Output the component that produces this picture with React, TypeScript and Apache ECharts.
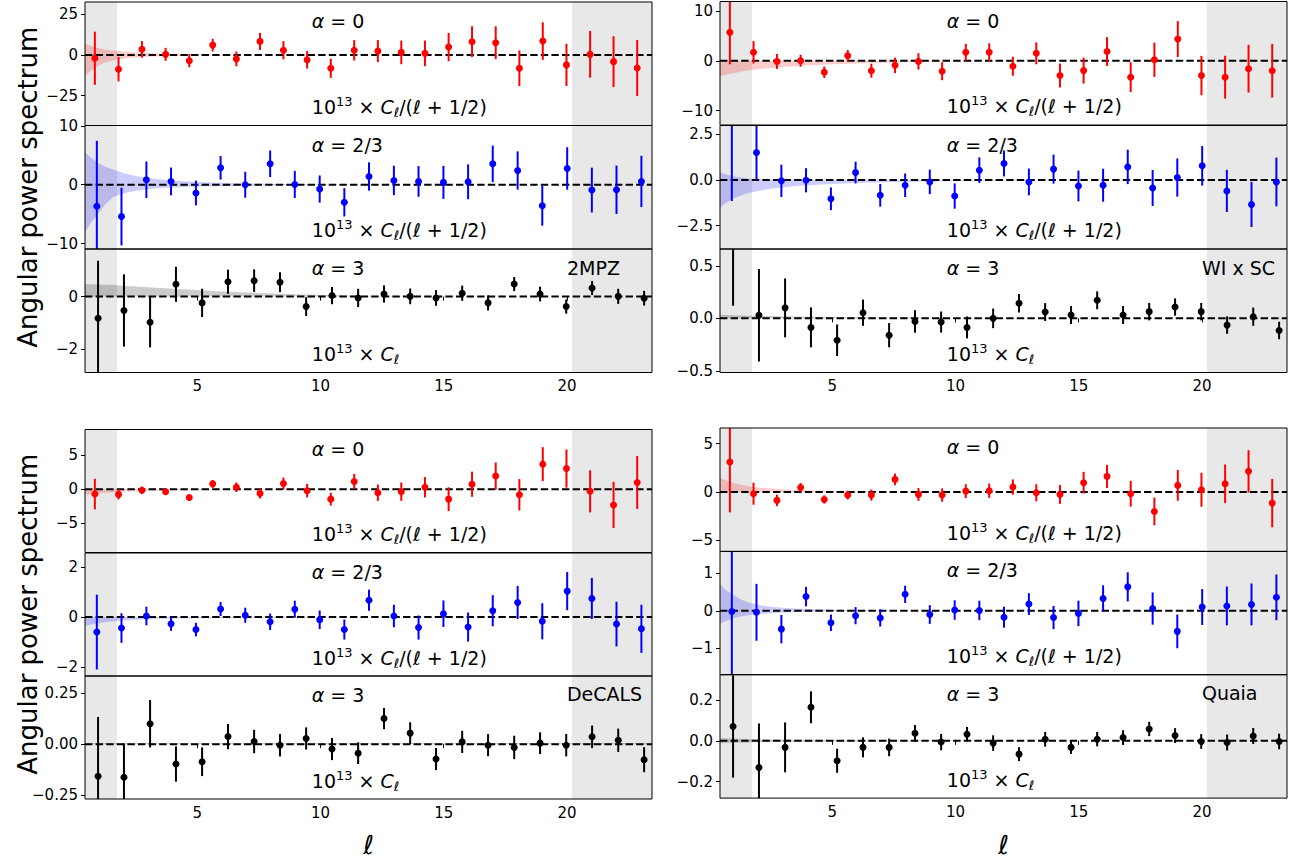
import React, { useEffect, useRef } from "react";
import * as echarts from "echarts";

const FONT = "DejaVu Sans";
const X_MIN = 0.45;
const X_MAX = 23.45;
const MASK_LOW = 1.75;
const MASK_HIGH = 20.2;
const X_TICKS = [5, 10, 15, 20];

const RED = "#ff0000";
const BLUE = "#0000ff";
const BLACK = "#000000";
const RED_BAND = "rgba(255,0,0,0.2)";
const BLUE_BAND = "rgba(0,0,255,0.2)";
const GRAY_BAND = "rgba(0,0,0,0.2)";
const MASK = "#e8e8e8";

// multipole positions of the three sets of bins
const ELL_A0 = [0.85, 1.81, 2.76, 3.72, 4.68, 5.63, 6.59, 7.55, 8.5, 9.46, 10.42, 11.37, 12.33, 13.28, 14.24, 15.2, 16.15, 17.11, 18.07, 19.02, 19.98, 20.94, 21.89, 22.85];
const ELL_A23 = [0.93, 1.93, 2.94, 3.94, 4.95, 5.95, 6.95, 7.96, 8.96, 9.97, 10.97, 11.97, 12.98, 13.98, 14.99, 15.99, 16.99, 18.0, 19.0, 20.01, 21.01, 22.01, 23.02];
const ELL_A3 = [0.98, 2.03, 3.09, 4.14, 5.2, 6.25, 7.31, 8.36, 9.42, 10.47, 11.53, 12.58, 13.64, 14.69, 15.75, 16.8, 17.86, 18.91, 19.97, 21.02, 22.08, 23.13];
const BAND_ELL = [0.45, 0.7, 1.0, 1.3, 1.6, 2.0, 2.5, 3.0, 3.5, 4.0, 5.0, 6.0, 7.5, 9.0, 11.0, 13.0, 16.0, 23.45];

// 2MPZ
const MPZ_A0_VAL = [-2, -8.8, 3.5, 0.4, -3.5, 6.1, -2.4, 8.4, 2.9, -3, -8.2, 2.9, 2.4, 1.6, 1, 4.9, 8.2, 7.6, -8.2, 8.6, -6.1, 0.4, -4.1, -8];
const MPZ_A0_ERR = [16.4, 7.5, 5.1, 4, 4.1, 3.9, 4.6, 5.3, 5.6, 5.4, 5.9, 6.3, 6.8, 7.3, 7.9, 8.7, 9.5, 10.1, 11, 11.6, 13, 14.4, 15.7, 17.3];
const MPZ_A0_LO = [-13, -9.5, -6.5, -4.5, -3.2, -2.2, -1.5, -1.1, -0.8, -0.6, -0.35, -0.2, -0.1, -0.05, -0.02, 0, 0, 0];
const MPZ_A0_HI = [7, 5.5, 4.2, 3.3, 2.7, 2.1, 1.6, 1.2, 0.9, 0.7, 0.4, 0.25, 0.12, 0.06, 0.02, 0, 0, 0];
const MPZ_A23_VAL = [-3.66, -5.4, 0.85, 0.56, -1.4, 2.87, 0, 3.55, 0.05, -0.73, -2.98, 1.4, 0.73, 0.56, 0.4, 0.5, 3.55, 2.42, -3.55, 2.76, -0.9, -0.85, 0.56];
const MPZ_A23_ERR = [11.1, 4.9, 3.1, 2.35, 2.1, 2.0, 2.2, 2.25, 2.3, 2.3, 2.4, 2.4, 2.5, 2.6, 2.8, 2.95, 3.1, 3.25, 3.4, 3.6, 3.8, 4.1, 4.35];
const MPZ_A23_LO = [-8.0, -6.4, -4.8, -3.2, -2.1, -1.5, -1.0, -0.75, -0.55, -0.45, -0.3, -0.2, -0.1, -0.05, -0.02, 0, 0, 0];
const MPZ_A23_HI = [5.5, 4.6, 3.6, 3.0, 2.6, 2.0, 1.5, 1.15, 0.9, 0.7, 0.45, 0.3, 0.15, 0.08, 0.03, 0, 0, 0];
const MPZ_A3_VAL = [-0.83, -0.53, -0.98, 0.47, -0.24, 0.57, 0.61, 0.55, -0.38, 0.04, -0.05, 0.1, 0.01, -0.05, 0.13, -0.24, 0.48, 0.1, -0.38, 0.33, 0.01, -0.06];
const MPZ_A3_ERR = [2.2, 1.38, 0.96, 0.67, 0.54, 0.46, 0.43, 0.38, 0.36, 0.33, 0.35, 0.33, 0.3, 0.3, 0.29, 0.29, 0.27, 0.28, 0.27, 0.27, 0.29, 0.28];
const MPZ_A3_LO = [0, 0, 0, 0, 0, 0, 0, 0, 0, 0, 0, 0, 0, 0, 0, 0, 0, 0];
const MPZ_A3_HI = [0.48, 0.47, 0.46, 0.45, 0.44, 0.42, 0.39, 0.36, 0.33, 0.3, 0.25, 0.2, 0.14, 0.09, 0.045, 0.015, 0, 0];

// WI x SC
const WISC_A0_VAL = [5.7, 1.7, -0.13, 0, -2.3, 1.0, -2.0, -0.92, -0.13, -2.1, 1.7, 1.7, -1.1, 1.5, -2.97, -1.98, 1.85, -3.3, 0.2, 4.36, -2.97, -3.3, -1.6, -2.0];
const WISC_A0_ERR = [6.4, 2.25, 1.5, 1.2, 1.15, 1.15, 1.4, 1.55, 1.65, 1.8, 1.7, 1.8, 1.9, 2.2, 2.4, 2.6, 2.9, 3.0, 3.45, 3.6, 3.95, 4.3, 4.8, 5.4];
const WISC_A0_LO = [-3.1, -2.8, -2.5, -2.2, -1.9, -1.7, -1.45, -1.25, -1.1, -0.95, -0.72, -0.55, -0.35, -0.22, -0.12, -0.06, -0.02, 0];
const WISC_A0_HI = [0, 0, 0, 0, 0, 0, 0, 0, 0, 0, 0, 0, 0, 0, 0, 0, 0, 0];
const WISC_A23_VAL = [3.6, 1.5, -0.05, -0.02, -1.03, 0.4, -0.84, -0.29, -0.11, -0.88, 0.53, 0.9, -0.11, 0.59, -0.33, -0.29, 0.71, -0.44, 0.13, 0.77, -0.6, -1.34, -0.11];
const WISC_A23_ERR = [4.75, 1.5, 0.88, 0.66, 0.62, 0.59, 0.62, 0.64, 0.67, 0.69, 0.7, 0.71, 0.73, 0.79, 0.84, 0.9, 0.94, 0.98, 1.04, 1.08, 1.15, 1.23, 1.33];
const WISC_A23_LO = [-1.5, -1.25, -1.0, -0.85, -0.72, -0.6, -0.48, -0.4, -0.34, -0.29, -0.22, -0.17, -0.12, -0.08, -0.05, -0.03, -0.01, 0];
const WISC_A23_HI = [0.4, 0.3, 0.2, 0.13, 0.08, 0.05, 0.03, 0.02, 0.01, 0, 0, 0, 0, 0, 0, 0, 0, 0];
const WISC_A3_VAL = [0.9, 0.03, 0.1, -0.086, -0.208, 0.054, -0.16, -0.029, -0.035, -0.086, 0, 0.144, 0.06, 0.032, 0.172, 0.032, 0.064, 0.108, 0.064, -0.064, 0.016, -0.115];
const WISC_A3_ERR = [0.78, 0.44, 0.28, 0.19, 0.15, 0.125, 0.115, 0.107, 0.1, 0.104, 0.093, 0.088, 0.085, 0.085, 0.085, 0.085, 0.083, 0.082, 0.083, 0.083, 0.087, 0.083];
const WISC_A3_LO = [0, 0, 0, 0, 0, 0, 0, 0, 0, 0, 0, 0, 0, 0, 0, 0, 0, 0];
const WISC_A3_HI = [0.035, 0.033, 0.03, 0.028, 0.026, 0.024, 0.022, 0.02, 0.018, 0.016, 0.013, 0.011, 0.008, 0.006, 0.004, 0.002, 0, 0];

// DeCALS
const DECALS_A0_VAL = [-0.7, -0.75, -0.15, -0.35, -1.2, 0.8, 0.3, -0.6, 0.85, -0.2, -1.45, 1.15, -0.5, -0.35, 0.3, -1.45, 0.75, 1.95, -0.8, 3.7, 3.05, -0.3, -2.3, 1.0];
const DECALS_A0_ERR = [2.25, 0.75, 0.55, 0.45, 0.5, 0.57, 0.7, 0.75, 0.87, 1.0, 0.95, 1.1, 1.2, 1.35, 1.5, 1.75, 1.85, 2.0, 2.3, 2.5, 2.8, 3.1, 3.4, 3.9];
const DECALS_A0_LO = [-0.8, -0.7, -0.6, -0.5, -0.42, -0.35, -0.28, -0.22, -0.18, -0.15, -0.1, -0.07, -0.04, -0.02, -0.01, 0, 0, 0];
const DECALS_A0_HI = [0, 0, 0, 0, 0, 0, 0, 0, 0, 0, 0, 0, 0, 0, 0, 0, 0, 0];
const DECALS_A23_VAL = [-0.6, -0.44, 0.04, -0.27, -0.5, 0.32, 0.07, -0.19, 0.31, -0.11, -0.5, 0.67, 0.04, -0.42, 0.13, -0.4, 0.25, 0.58, -0.17, 1.03, 0.74, -0.28, -0.47];
const DECALS_A23_ERR = [1.49, 0.59, 0.37, 0.28, 0.27, 0.28, 0.3, 0.33, 0.34, 0.37, 0.4, 0.42, 0.45, 0.48, 0.53, 0.58, 0.62, 0.66, 0.72, 0.76, 0.82, 0.89, 0.96];
const DECALS_A23_LO = [-0.36, -0.3, -0.25, -0.2, -0.17, -0.14, -0.11, -0.09, -0.07, -0.06, -0.045, -0.035, -0.025, -0.015, -0.01, -0.005, 0, 0];
const DECALS_A23_HI = [0, 0, 0, 0, 0, 0, 0, 0, 0, 0, 0, 0, 0, 0, 0, 0, 0, 0];
const DECALS_A3_VAL = [-0.157, -0.162, 0.1, -0.097, -0.086, 0.037, 0.013, -0.005, 0.028, -0.024, -0.044, 0.125, 0.054, -0.073, 0.011, -0.005, -0.016, 0.005, -0.005, 0.036, 0.019, -0.076];
const DECALS_A3_ERR = [0.29, 0.165, 0.116, 0.086, 0.07, 0.062, 0.057, 0.055, 0.054, 0.054, 0.053, 0.052, 0.053, 0.054, 0.054, 0.054, 0.057, 0.053, 0.055, 0.055, 0.057, 0.061];
const DECALS_A3_LO = [0, 0, 0, 0, 0, 0, 0, 0, 0, 0, 0, 0, 0, 0, 0, 0, 0, 0];
const DECALS_A3_HI = [0.006, 0.006, 0.006, 0.006, 0.006, 0.006, 0.006, 0.006, 0.006, 0.006, 0.006, 0.006, 0.006, 0.006, 0.006, 0.006, 0.006, 0.006];

// Quaia
const QUAIA_A0_VAL = [3.1, -0.17, -0.86, 0.48, -0.76, -0.31, -0.31, 1.31, -0.24, -0.31, 0.1, 0.14, 0.52, -0.07, -0.24, 0.97, 1.62, -0.17, -2.0, 0.69, 0.24, 0.86, 2.14, -1.14];
const QUAIA_A0_ERR = [5.2, 1.14, 0.6, 0.45, 0.43, 0.46, 0.58, 0.6, 0.67, 0.69, 0.71, 0.74, 0.79, 0.88, 0.98, 1.12, 1.19, 1.33, 1.43, 1.59, 1.76, 1.99, 2.19, 2.5];
const QUAIA_A0_LO = [0, 0, 0, 0, 0, 0, 0, 0, 0, 0, 0, 0, 0, 0, 0, 0, 0, 0];
const QUAIA_A0_HI = [1.45, 1.2, 0.95, 0.75, 0.6, 0.47, 0.36, 0.28, 0.22, 0.18, 0.12, 0.08, 0.05, 0.03, 0.015, 0.005, 0, 0];
const QUAIA_A23_VAL = [-0.02, -0.04, -0.49, 0.38, -0.32, -0.13, -0.19, 0.44, -0.1, 0.02, 0.01, -0.17, 0.18, -0.18, -0.07, 0.33, 0.64, 0.06, -0.55, 0.1, 0.13, 0.17, 0.36];
const QUAIA_A23_ERR = [2.2, 0.76, 0.38, 0.26, 0.22, 0.23, 0.23, 0.23, 0.25, 0.26, 0.26, 0.28, 0.29, 0.31, 0.34, 0.35, 0.39, 0.43, 0.45, 0.48, 0.52, 0.56, 0.61];
const QUAIA_A23_LO = [-0.34, -0.27, -0.2, -0.15, -0.12, -0.09, -0.065, -0.045, -0.035, -0.025, -0.015, -0.008, -0.004, 0, 0, 0, 0, 0];
const QUAIA_A23_HI = [0.71, 0.55, 0.42, 0.3, 0.22, 0.16, 0.11, 0.08, 0.06, 0.045, 0.025, 0.015, 0.008, 0.004, 0, 0, 0, 0];
const QUAIA_A3_VAL = [0.07, -0.13, -0.032, 0.164, -0.097, -0.032, -0.032, 0.037, -0.006, 0.032, -0.011, -0.065, 0.008, -0.032, 0.008, 0.016, 0.058, 0.026, -0.003, -0.008, 0.024, -0.003];
const QUAIA_A3_ERR = [0.25, 0.215, 0.122, 0.078, 0.059, 0.049, 0.043, 0.04, 0.04, 0.036, 0.038, 0.034, 0.036, 0.032, 0.035, 0.036, 0.035, 0.036, 0.036, 0.039, 0.039, 0.038];
const QUAIA_A3_LO = [-0.012, -0.011, -0.01, -0.009, -0.008, -0.007, -0.006, -0.005, -0.005, -0.004, -0.003, -0.003, -0.002, -0.001, -0.001, 0, 0, 0];
const QUAIA_A3_HI = [0.013, 0.012, 0.011, 0.01, 0.009, 0.008, 0.007, 0.006, 0.005, 0.005, 0.004, 0.003, 0.002, 0.002, 0.001, 0, 0, 0];

const RATIO_LABEL = "{n|10}{sup|13}{n| × }{i|C}{sub|ℓ}{n|/(}{i|ℓ}{n| + 1/2)}";
const PLAIN_LABEL = "{n|10}{sup|13}{n| × }{i|C}{sub|ℓ}";

type Sub = {
  ell: number[]; val: number[]; err: number[]; lo: number[]; hi: number[];
  color: string; band: string; ymin: number; ymax: number; ticks: number[]; dec: number;
  alpha: string; plain: boolean; tag?: string;
};
type Panel = { left: number; width: number; tops: number[]; height: number; ylabel: boolean; xlabel: boolean; subs: Sub[] };

const PANELS: Panel[] = [
  {
    left: 85, width: 567, tops: [2, 125.5, 249], height: 123.5, ylabel: true, xlabel: false,
    subs: [
      { ell: ELL_A0, val: MPZ_A0_VAL, err: MPZ_A0_ERR, lo: MPZ_A0_LO, hi: MPZ_A0_HI, color: RED, band: RED_BAND, ymin: -43.5, ymax: 32.7, ticks: [-25, 0, 25], dec: 0, alpha: "0", plain: false },
      { ell: ELL_A23, val: MPZ_A23_VAL, err: MPZ_A23_ERR, lo: MPZ_A23_LO, hi: MPZ_A23_HI, color: BLUE, band: BLUE_BAND, ymin: -10.9, ymax: 10.05, ticks: [-10, 0, 10], dec: 0, alpha: "2/3", plain: false },
      { ell: ELL_A3, val: MPZ_A3_VAL, err: MPZ_A3_ERR, lo: MPZ_A3_LO, hi: MPZ_A3_HI, color: BLACK, band: GRAY_BAND, ymin: -2.9, ymax: 1.82, ticks: [-2, 0], dec: 0, alpha: "3", plain: true, tag: "2MPZ" },
    ],
  },
  {
    left: 720, width: 567, tops: [1.5, 125.5, 249], height: 123.5, ylabel: false, xlabel: false,
    subs: [
      { ell: ELL_A0, val: WISC_A0_VAL, err: WISC_A0_ERR, lo: WISC_A0_LO, hi: WISC_A0_HI, color: RED, band: RED_BAND, ymin: -12.9, ymax: 11.9, ticks: [-10, 0, 10], dec: 0, alpha: "0", plain: false },
      { ell: ELL_A23, val: WISC_A23_VAL, err: WISC_A23_ERR, lo: WISC_A23_LO, hi: WISC_A23_HI, color: BLUE, band: BLUE_BAND, ymin: -3.77, ymax: 2.97, ticks: [-2.5, 0, 2.5], dec: 1, alpha: "2/3", plain: false },
      { ell: ELL_A3, val: WISC_A3_VAL, err: WISC_A3_ERR, lo: WISC_A3_LO, hi: WISC_A3_HI, color: BLACK, band: GRAY_BAND, ymin: -0.515, ymax: 0.66, ticks: [-0.5, 0, 0.5], dec: 1, alpha: "3", plain: true, tag: "WI x SC" },
    ],
  },
  {
    left: 85, width: 567, tops: [429.5, 553, 676], height: 123, ylabel: true, xlabel: true,
    subs: [
      { ell: ELL_A0, val: DECALS_A0_VAL, err: DECALS_A0_ERR, lo: DECALS_A0_LO, hi: DECALS_A0_HI, color: RED, band: RED_BAND, ymin: -9.3, ymax: 8.8, ticks: [-5, 0, 5], dec: 0, alpha: "0", plain: false },
      { ell: ELL_A23, val: DECALS_A23_VAL, err: DECALS_A23_ERR, lo: DECALS_A23_LO, hi: DECALS_A23_HI, color: BLUE, band: BLUE_BAND, ymin: -2.35, ymax: 2.55, ticks: [-2, 0, 2], dec: 0, alpha: "2/3", plain: false },
      { ell: ELL_A3, val: DECALS_A3_VAL, err: DECALS_A3_ERR, lo: DECALS_A3_LO, hi: DECALS_A3_HI, color: BLACK, band: GRAY_BAND, ymin: -0.268, ymax: 0.333, ticks: [-0.25, 0, 0.25], dec: 2, alpha: "3", plain: true, tag: "DeCALS" },
    ],
  },
  {
    left: 720, width: 567, tops: [428, 551.3, 674.6], height: 123.5, ylabel: false, xlabel: true,
    subs: [
      { ell: ELL_A0, val: QUAIA_A0_VAL, err: QUAIA_A0_ERR, lo: QUAIA_A0_LO, hi: QUAIA_A0_HI, color: RED, band: RED_BAND, ymin: -6.14, ymax: 6.62, ticks: [-5, 0, 5], dec: 0, alpha: "0", plain: false },
      { ell: ELL_A23, val: QUAIA_A23_VAL, err: QUAIA_A23_ERR, lo: QUAIA_A23_LO, hi: QUAIA_A23_HI, color: BLUE, band: BLUE_BAND, ymin: -1.71, ymax: 1.59, ticks: [-1, 0, 1], dec: 0, alpha: "2/3", plain: false },
      { ell: ELL_A3, val: QUAIA_A3_VAL, err: QUAIA_A3_ERR, lo: QUAIA_A3_LO, hi: QUAIA_A3_HI, color: BLACK, band: GRAY_BAND, ymin: -0.28, ymax: 0.324, ticks: [-0.2, 0, 0.2], dec: 1, alpha: "3", plain: true, tag: "Quaia" },
    ],
  },
];

const TEXT_SIZE = 19;
const TICK_SIZE = 15;
const RICH: any = {
  n: { fontFamily: FONT, fontSize: TEXT_SIZE, lineHeight: 24, verticalAlign: "middle", fill: "#000" },
  i: { fontFamily: FONT, fontSize: TEXT_SIZE, fontStyle: "italic", lineHeight: 24, verticalAlign: "middle", fill: "#000" },
  sup: { fontFamily: FONT, fontSize: 13, lineHeight: 14, verticalAlign: "top", fill: "#000" },
  sub: { fontFamily: FONT, fontSize: 13, fontStyle: "italic", lineHeight: 14, verticalAlign: "bottom", fill: "#000" },
};

function fmt(v: number, dec: number): string {
  const s = Math.abs(v).toFixed(dec);
  return (v < -1e-12 ? "\u2212" : "") + s;
}

function buildOption(): any {
  const grid: any[] = [];
  const xAxis: any[] = [];
  const yAxis: any[] = [];
  const series: any[] = [];
  const graphic: any[] = [];

  PANELS.forEach((p) => {
    p.subs.forEach((s, k) => {
      const gi = grid.length;
      const top = p.tops[k];
      const isBottom = k === p.subs.length - 1;
      const clamp = (v: number) => Math.max(s.ymin, Math.min(s.ymax, v));

      grid.push({
        left: p.left, top, width: p.width, height: p.height,
        show: true, borderColor: "#000", borderWidth: 1, backgroundColor: "transparent", z: 10,
      });
      xAxis.push({
        type: "value", gridIndex: gi, min: X_MIN, max: X_MAX,
        axisLine: { show: false }, splitLine: { show: false },
        axisTick: { show: isBottom, customValues: X_TICKS, length: 4, lineStyle: { color: "#000", width: 1 } },
        axisLabel: { show: isBottom, customValues: X_TICKS, margin: 6, fontSize: TICK_SIZE, color: "#000", fontFamily: FONT },
      });
      yAxis.push({
        type: "value", gridIndex: gi, min: s.ymin, max: s.ymax,
        axisLine: { show: false }, splitLine: { show: false },
        axisTick: { show: true, customValues: s.ticks, length: 4, lineStyle: { color: "#000", width: 1 } },
        axisLabel: {
          customValues: s.ticks, margin: 7, fontSize: TICK_SIZE, color: "#000", fontFamily: FONT,
          formatter: (v: number) => fmt(v, s.dec),
        },
      });
      const ax = { xAxisIndex: gi, yAxisIndex: gi };

      // masked multipole ranges
      series.push({
        type: "custom", ...ax, z: 1, silent: true,
        data: [[X_MIN, MASK_LOW], [MASK_HIGH, X_MAX]],
        renderItem: (_params: any, api: any) => {
          const a = api.coord([api.value(0), s.ymax]);
          const b = api.coord([api.value(1), s.ymin]);
          return { type: "rect", shape: { x: a[0], y: a[1], width: b[0] - a[0], height: b[1] - a[1] }, style: { fill: MASK } };
        },
      });

      // theory band
      const bandData = BAND_ELL.map((l, i) => [l, s.lo[i], s.hi[i]]);
      series.push({
        type: "custom", ...ax, z: 2, silent: true,
        data: bandData,
        renderItem: (params: any, api: any) => {
          if (params.dataIndex !== 0) return { type: "group", children: [] };
          const pts: number[][] = [];
          for (let i = 0; i < bandData.length; i++) pts.push(api.coord([bandData[i][0], clamp(bandData[i][2])]));
          for (let i = bandData.length - 1; i >= 0; i--) pts.push(api.coord([bandData[i][0], clamp(bandData[i][1])]));
          return { type: "polygon", shape: { points: pts }, style: { fill: s.band } };
        },
      });

      // zero line
      series.push({
        type: "line", ...ax, z: 3, silent: true, symbol: "none",
        data: [[X_MIN, 0], [X_MAX, 0]],
        lineStyle: { color: "#000", width: 2, type: [7.4, 3.2] },
      });

      // error bars
      series.push({
        type: "custom", ...ax, z: 4, silent: true,
        data: s.ell.map((l, i) => [l, s.val[i], s.err[i]]),
        renderItem: (_params: any, api: any) => {
          const x = api.value(0), v = api.value(1), e = api.value(2);
          const p1 = api.coord([x, clamp(v - e)]);
          const p2 = api.coord([x, clamp(v + e)]);
          return { type: "line", shape: { x1: p1[0], y1: p1[1], x2: p2[0], y2: p2[1] }, style: { stroke: s.color, lineWidth: 2 } };
        },
      });

      // points
      series.push({
        type: "scatter", ...ax, z: 5, silent: true, clip: true,
        symbol: "circle", symbolSize: 7,
        data: s.ell.map((l, i) => [l, s.val[i]]),
        itemStyle: { color: s.color, opacity: 1 },
      });

      const tx = p.left + 0.4 * p.width;
      graphic.push({
        type: "text", x: tx, y: top + 0.155 * p.height, z: 100, silent: true,
        style: { text: `{i|α}{n| = ${s.alpha}}`, rich: RICH, align: "left", verticalAlign: "middle", fill: "#000" },
      });
      graphic.push({
        type: "text", x: tx, y: top + 0.85 * p.height, z: 100, silent: true,
        style: { text: s.plain ? PLAIN_LABEL : RATIO_LABEL, rich: RICH, align: "left", verticalAlign: "middle", fill: "#000" },
      });
      if (s.tag) {
        graphic.push({
          type: "text", x: p.left + 0.85 * p.width, y: top + 0.15 * p.height, z: 100, silent: true,
          style: { text: s.tag, fontSize: TEXT_SIZE, fontFamily: FONT, fill: "#000", align: "left", verticalAlign: "middle" },
        });
      }
    });

    const panelTop = p.tops[0];
    const panelBottom = p.tops[p.tops.length - 1] + p.height;
    if (p.ylabel) {
      graphic.push({
        type: "text", x: 28, y: (panelTop + panelBottom) / 2, rotation: Math.PI / 2, z: 100, silent: true,
        style: { text: "Angular power spectrum", fontSize: 26, fontFamily: FONT, fill: "#000", align: "center", verticalAlign: "middle" },
      });
    }
    if (p.xlabel) {
      graphic.push({
        type: "text", x: p.left + p.width / 2, y: 845, z: 100, silent: true,
        style: { text: "ℓ", fontSize: 26, fontFamily: FONT, fontStyle: "italic", fill: "#000", align: "center", verticalAlign: "middle" },
      });
    }
  });

  return { animation: false, backgroundColor: "#ffffff", grid, xAxis, yAxis, series, graphic };
}

export default function App() {
  const ref = useRef<HTMLDivElement>(null);
  useEffect(() => {
    document.body.style.margin = "0";
    const chart = echarts.init(ref.current!, null, { renderer: "svg" });
    chart.setOption(buildOption());
    return () => chart.dispose();
  }, []);
  return <div ref={ref} style={{ width: 1302, height: 860 }} />;
}
